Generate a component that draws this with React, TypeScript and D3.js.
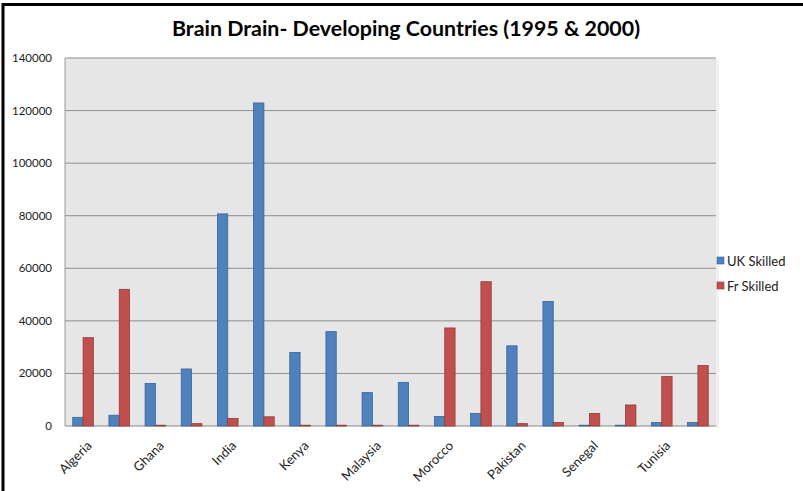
import React from "react";
import * as d3 from "d3";

const countries = ["Algeria", "Ghana", "India", "Kenya", "Malaysia", "Morocco", "Pakistan", "Senegal", "Tunisia"];
const years = ["1995", "2000"];
const categories = countries.flatMap((c) => years.map((y) => `${c} ${y}`));
const ukSkilled = [3300, 4100, 16200, 21700, 80700, 122900, 28000, 35900, 12700, 16600, 3600, 4800, 30500, 47400, 300, 300, 1300, 1300];
const frSkilled = [33600, 52000, 300, 900, 2900, 3500, 300, 300, 300, 300, 37300, 54900, 900, 1300, 4800, 8000, 18800, 23000];
const yTicks = [0, 20000, 40000, 60000, 80000, 100000, 120000, 140000];
const seriesNames = ["UK Skilled", "Fr Skilled"];
const colors = ["#4F81BD", "#C0504D"];
const strokes = ["#3A649A", "#953B39"];
const title = "Brain Drain- Developing Countries (1995 & 2000)";

const W = 803;
const H = 491;
const plot = { left: 65, right: 716, top: 58, bottom: 426 };
const FONT = "Lato, 'Open Sans', sans-serif";

export default function App() {
  const x = d3.scaleBand<number>().domain(d3.range(categories.length)).range([plot.left, plot.right]).paddingInner(0).paddingOuter(0);
  const bw = x.bandwidth() / 3.5;
  const y = d3.scaleLinear().domain([0, 140000]).range([plot.bottom, plot.top]);
  const series = [ukSkilled, frSkilled];

  return (
    <div style={{ position: "absolute", left: 0, top: 0 }}>
      <svg width={W} height={H} style={{ display: "block", fontFamily: FONT }}>
        <rect x={0} y={0} width={W} height={H} fill="#ffffff" />
        <line x1={3} x2={W} y1={4.5} y2={4.5} stroke="#000" strokeWidth={3} />
        <line x1={3} x2={3} y1={3} y2={H} stroke="#000" strokeWidth={3} />
        <text x={406} y={36} textAnchor="middle" fontSize={20} fontWeight="bold" fill="#000" textLength={468} lengthAdjust="spacingAndGlyphs">
          {title}
        </text>
        <rect x={plot.right} y={plot.top + 2} width={3} height={plot.bottom - plot.top} fill="#f0f0f0" />
        <rect x={plot.left} y={plot.top} width={plot.right - plot.left} height={plot.bottom - plot.top} fill="#E6E6E6" />
        {yTicks.map((t) => (
          <g key={t}>
            <line x1={plot.left} x2={plot.right} y1={y(t)} y2={y(t)} stroke={t === 0 ? "#888" : "#8f8f8f"} strokeWidth={1} />
            <text x={52} y={y(t)} dy="0.35em" textAnchor="end" fontSize={11.5} fill="#222">
              {t}
            </text>
          </g>
        ))}
        <line x1={plot.left} x2={plot.left} y1={plot.top} y2={plot.bottom} stroke="#999" strokeWidth={1} />
        {categories.map((c, i) =>
          series.map((s, k) => {
            const x0 = (x(i) as number) + 0.75 * bw + k * bw;
            return (
              <rect
                key={c + k}
                x={x0}
                y={y(s[i])}
                width={bw}
                height={plot.bottom - y(s[i])}
                fill={colors[k]}
                stroke={strokes[k]}
                strokeWidth={0.8}
              />
            );
          })
        )}
        {categories.map((c, i) => {
          if (i % 2 !== 0) return null;
          const cx = (x(i) as number) + x.bandwidth() / 2;
          return (
            <text key={c} transform={`translate(${cx + 3},${440}) rotate(-45)`} textAnchor="end" dy="0.7em" fontSize={13} fill="#222">
              {countries[i / 2]}
            </text>
          );
        })}
        {seriesNames.map((n, k) => (
          <g key={n} transform={`translate(717,${257 + k * 25})`}>
            <rect x={0} y={0} width={7} height={7} fill={colors[k]} stroke={strokes[k]} strokeWidth={0.6} />
            <text x={10} y={4} dy="0.35em" fontSize={13} fill="#222">
              {n}
            </text>
          </g>
        ))}
      </svg>
    </div>
  );
}
